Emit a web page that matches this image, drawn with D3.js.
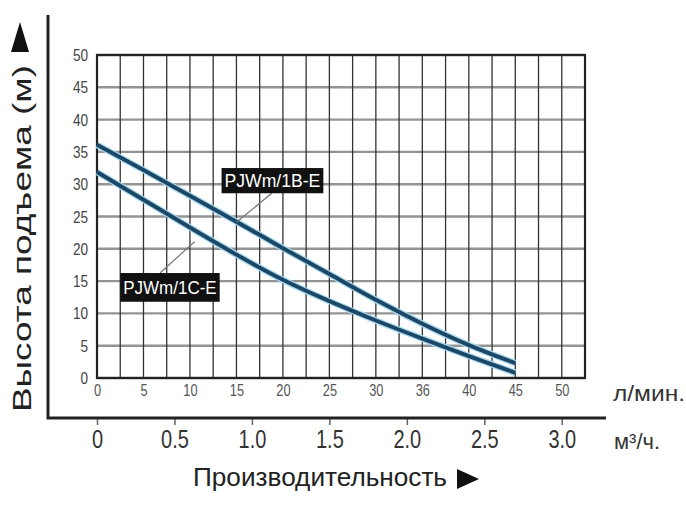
<!DOCTYPE html>
<html>
<head>
<meta charset="utf-8">
<script src="https://cdn.jsdelivr.net/npm/d3@7"></script>
<style>
  body { margin: 0; background: #fff; }
  svg text { font-family: "Liberation Sans", Arial, sans-serif; }
</style>
</head>
<body>
<div id="chart"></div>
<script>
// flow in l/min, head in m
var flow = [0, 5, 10, 15, 20, 25, 30, 35, 40, 45];
var head1B = [36.1, 32.2, 28.2, 24.2, 20.1, 16.1, 12.1, 8.4, 5.1, 2.3];
var head1C = [31.9, 27.6, 23.3, 19.1, 15.2, 11.9, 8.9, 6.1, 3.4, 0.8];
var seriesNames = ["PJWm/1B-E", "PJWm/1C-E"];

var lminTicks = [0, 5, 10, 15, 20, 25, 30, 35, 40, 45, 50];
var lminLabels = ["0", "5", "10", "15", "20", "25", "30", "36", "40", "45", "50"];
var m3hTicks = [0, 0.5, 1.0, 1.5, 2.0, 2.5, 3.0];
var headTicks = [0, 5, 10, 15, 20, 25, 30, 35, 40, 45, 50];

// label boxes and leader lines, in data units (l/min, m)
var labelBoxes = [
  { name: seriesNames[0], x0: 13.4, x1: 24.35, y0: 28.6, y1: 32.5, from: [18.8, 28.6], to: [15.0, 24.1] },
  { name: seriesNames[1], x0: 2.5, x1: 13.2, y0: 11.8, y1: 16.25, from: [6.8, 16.3], to: [10.5, 21.1] }
];

var width = 686,
    height = 510;
var plotL = 97, plotR = 585, plotT = 55, plotB = 378;
var narrow = "scale(0.8,1)";

var x = d3.scaleLinear().domain([0, 52.5]).range([plotL, plotR]);
var xm3 = d3.scaleLinear().domain([0, 52.5 * 60 / 1000]).range([plotL, plotR]);
var y = d3.scaleLinear().domain([0, 50]).range([plotB, plotT]);

var svg = d3.select("#chart")
  .append("svg")
    .attr("width", width)
    .attr("height", height);

svg.append("rect").attr("width", width).attr("height", height).attr("fill", "#fff");

// horizontal grid
svg.append("g")
  .selectAll("line")
  .data(headTicks)
  .enter()
  .append("line")
    .attr("x1", plotL).attr("x2", plotR)
    .attr("y1", function(d) { return y(d); })
    .attr("y2", function(d) { return y(d); })
    .attr("stroke", "#939393")
    .attr("stroke-width", 2.4);

// vertical grid every 2.5 l/min
svg.append("g")
  .selectAll("line")
  .data(d3.range(0, 52.51, 2.5))
  .enter()
  .append("line")
    .attr("x1", function(d) { return x(d); })
    .attr("x2", function(d) { return x(d); })
    .attr("y1", plotT).attr("y2", plotB)
    .attr("stroke", "#333")
    .attr("stroke-width", 1.3);

// frame
svg.append("rect")
  .attr("x", plotL).attr("y", plotT)
  .attr("width", plotR - plotL).attr("height", plotB - plotT)
  .attr("fill", "none")
  .attr("stroke", "#222")
  .attr("stroke-width", 2.2);

// head tick labels
svg.append("g")
  .selectAll("g")
  .data(headTicks)
  .enter()
  .append("g")
    .attr("transform", function(d) { return "translate(88," + (y(d) + 6) + ")"; })
  .append("text")
    .attr("transform", narrow)
    .attr("text-anchor", "end")
    .attr("font-size", 17)
    .attr("fill", "#444")
    .text(function(d) { return d; });

// l/min axis labels
var xAxis = d3.axisBottom(x)
  .tickValues(lminTicks)
  .tickSize(0)
  .tickFormat(function(d, i) { return lminLabels[i]; });

var gx = svg.append("g")
  .attr("transform", "translate(0," + (plotB + 4) + ")")
  .call(xAxis);
gx.select(".domain").remove();
gx.selectAll("text")
  .attr("font-size", 16)
  .attr("font-family", null)
  .attr("fill", "#555")
  .attr("transform", narrow);

svg.append("text")
  .attr("x", 613).attr("y", 401)
  .attr("font-size", 22)
  .attr("fill", "#333")
  .attr("textLength", 72)
  .attr("lengthAdjust", "spacingAndGlyphs")
  .text("л/мин.");

// m3/h axis
var m3Axis = d3.axisBottom(xm3)
  .tickValues(m3hTicks)
  .tickSize(7)
  .tickPadding(5)
  .tickFormat(function(d) { return d === 0 ? "0" : d3.format(".1f")(d); });

var gm = svg.append("g")
  .attr("transform", "translate(0,418)")
  .call(m3Axis);
gm.select(".domain").remove();
gm.selectAll(".tick line").attr("stroke", "#666").attr("stroke-width", 1.5);
gm.selectAll("text")
  .attr("font-size", 25)
  .attr("font-family", null)
  .attr("fill", "#333")
  .attr("transform", narrow);

svg.append("text")
  .attr("x", 614).attr("y", 449)
  .attr("font-size", 22)
  .attr("fill", "#333")
  .attr("textLength", 46)
  .attr("lengthAdjust", "spacingAndGlyphs")
  .text("м³/ч.");

// outer L frame
svg.append("path")
  .attr("d", "M48,15V418H606")
  .attr("fill", "none")
  .attr("stroke", "#222")
  .attr("stroke-width", 3);

// curves
var line = d3.line()
  .x(function(d) { return x(d[0]); })
  .y(function(d) { return y(d[1]); })
  .curve(d3.curveNatural);

[head1B, head1C].forEach(function(h) {
  var pts = flow.map(function(f, i) { return [f, h[i]]; });
  svg.append("path")
    .attr("d", line(pts))
    .attr("fill", "none")
    .attr("stroke", "#a6d8f2")
    .attr("stroke-width", 6.5);
  svg.append("path")
    .attr("d", line(pts))
    .attr("fill", "none")
    .attr("stroke", "#1c4866")
    .attr("stroke-width", 4);
});

// leader lines and labels
svg.append("g")
  .selectAll("line")
  .data(labelBoxes)
  .enter()
  .append("line")
    .attr("x1", function(d) { return x(d.from[0]); })
    .attr("y1", function(d) { return y(d.from[1]); })
    .attr("x2", function(d) { return x(d.to[0]); })
    .attr("y2", function(d) { return y(d.to[1]); })
    .attr("stroke", "#777")
    .attr("stroke-width", 1.2);

var lb = svg.append("g")
  .selectAll("g")
  .data(labelBoxes)
  .enter()
  .append("g");

lb.append("rect")
  .attr("x", function(d) { return x(d.x0); })
  .attr("y", function(d) { return y(d.y1); })
  .attr("width", function(d) { return x(d.x1) - x(d.x0); })
  .attr("height", function(d) { return y(d.y0) - y(d.y1); })
  .attr("fill", "#111");

lb.append("text")
  .attr("x", function(d) { return (x(d.x0) + x(d.x1)) / 2; })
  .attr("y", function(d) { return (y(d.y0) + y(d.y1)) / 2 + 6.5; })
  .attr("text-anchor", "middle")
  .attr("font-size", 18)
  .attr("fill", "#fff")
  .attr("textLength", function(d) { return x(d.x1) - x(d.x0) - 6; })
  .attr("lengthAdjust", "spacingAndGlyphs")
  .text(function(d) { return d.name; });

// axis titles
svg.append("text")
  .attr("transform", "translate(31,412) rotate(-90)")
  .attr("font-size", 25)
  .attr("fill", "#222")
  .attr("textLength", 347)
  .attr("lengthAdjust", "spacingAndGlyphs")
  .text("Высота подъема (м)");

svg.append("path")
  .attr("d", "M20,22L29,52L11,52Z")
  .attr("fill", "#111");

svg.append("text")
  .attr("x", 193).attr("y", 486)
  .attr("font-size", 25)
  .attr("fill", "#222")
  .attr("textLength", 254)
  .attr("lengthAdjust", "spacingAndGlyphs")
  .text("Производительность");

svg.append("path")
  .attr("d", "M457,469L479,479L457,489Z")
  .attr("fill", "#111");
</script>
</body>
</html>
